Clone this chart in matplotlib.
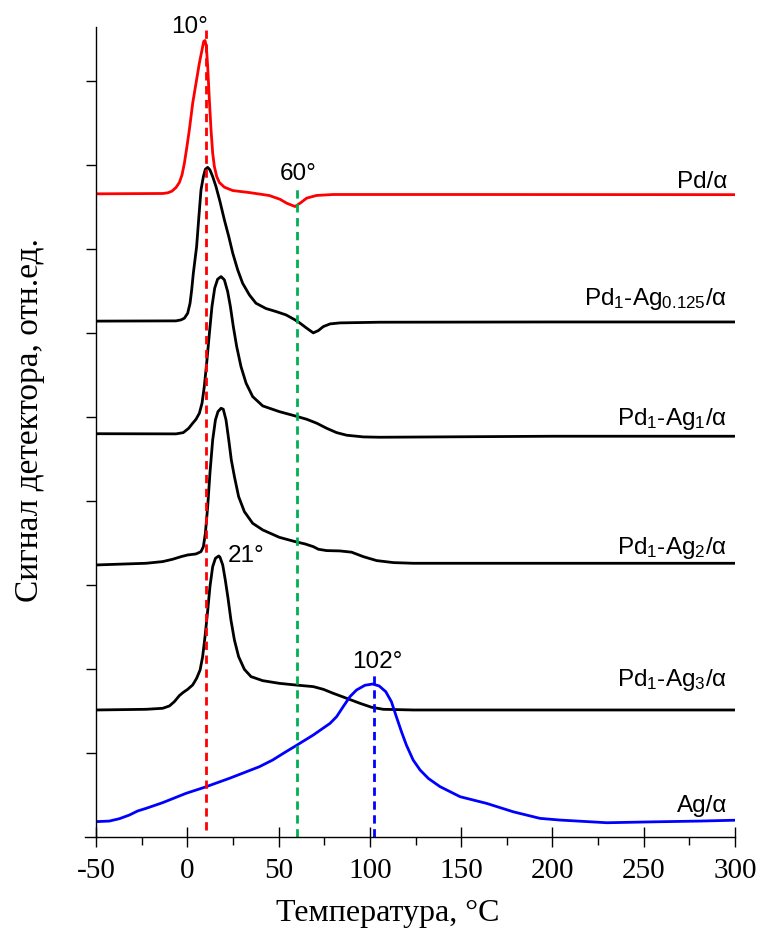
import matplotlib
matplotlib.use('Agg')
import matplotlib.pyplot as plt
from matplotlib.ticker import MultipleLocator

plt.rcParams['mathtext.default'] = 'regular'
plt.rcParams['axes.unicode_minus'] = False

# temperature (°C) / signal (offset curves, arbitrary units)
pd_t = [-50, -13.5, -10.7, -8.4, -6.2, -4.35, -2.9, -1.6, -0.34, 1.12, 2.95, 4.77, 6.6, 8.06, 8.97,
        9.7, 10.43, 11.16, 12.08, 12.99, 13.9, 14.82, 16.1, 17.55, 20.3, 24.9, 34.0, 44.9, 50.8,
        54.4, 59.0, 61.8, 65.4, 70.9, 80.0, 150, 300]
pd_y = [7.655, 7.659, 7.667, 7.687, 7.73, 7.79, 7.881, 8.02, 8.198, 8.417, 8.734, 8.972, 9.21,
        9.369, 9.468, 9.48, 9.409, 9.171, 8.774, 8.417, 8.139, 7.98, 7.861, 7.79, 7.734, 7.694,
        7.67, 7.635, 7.59, 7.544, 7.504, 7.544, 7.604, 7.636, 7.647, 7.647, 7.645]

ag0125_t = [-50, -6.2, -3.4, -1.6, 0.2, 1.5, 2.4, 3.3, 4.2, 5.1, 6.2, 7.5, 8.8, 9.9, 11.16, 12.4,
            13.9, 15.7, 17.9, 20.3, 22.7, 24.9, 27.6, 30.3, 34.0, 37.6, 43.1, 48.6, 54.1, 59.0,
            61.8, 65.4, 69.0, 71.8, 74.5, 78.2, 83.6, 105.5, 200, 300]
ag0125_y = [6.14, 6.143, 6.155, 6.175, 6.234, 6.353, 6.512, 6.71, 6.869, 7.028, 7.345, 7.702, 7.86,
            7.948, 7.97, 7.94, 7.86, 7.742, 7.563, 7.345, 7.147, 6.948, 6.75, 6.591, 6.452, 6.353,
            6.29, 6.254, 6.214, 6.155, 6.115, 6.056, 6.00, 6.028, 6.075, 6.107, 6.119, 6.127,
            6.13, 6.13]

ag1_t = [-50, -6.2, -2.2, 0.76, 2.95, 4.77, 6.6, 8.06, 9.3, 10.6, 12.1, 13.5, 15.0, 16.6, 18.5,
         20.3, 22.1, 23.6, 25.2, 27.05, 29.4, 32.2, 35.8, 41.3, 50.4, 59.0, 65.4, 70.9, 76.3,
         81.8, 87.3, 96.4, 105.5, 200, 300]
ag1_y = [4.80, 4.798, 4.813, 4.865, 4.925, 4.972, 5.044, 5.163, 5.361, 5.639, 5.996, 6.313, 6.532,
         6.639, 6.67, 6.631, 6.492, 6.313, 6.075, 5.837, 5.599, 5.401, 5.242, 5.131, 5.063, 5.012,
         4.972, 4.925, 4.865, 4.813, 4.782, 4.762, 4.758, 4.77, 4.77]

ag2_t = [-50, -22.6, -13.5, -8.0, -3.4, 0.2, 4.77, 7.5, 8.8, 9.9, 11.16, 12.4, 13.9, 15.4, 16.8,
         18.5, 19.7, 21.2, 22.7, 24.1, 25.8, 28.1, 31.25, 35.8, 41.3, 50.4, 59.0, 64.5, 69.0,
         71.8, 76.3, 83.6, 90.0, 96.4, 103.7, 112.9, 123.8, 200, 300]
ag2_y = [3.238, 3.258, 3.278, 3.306, 3.337, 3.357, 3.369, 3.397, 3.456, 3.615, 3.933, 4.33, 4.726,
         4.964, 5.063, 5.103, 5.091, 4.964, 4.726, 4.488, 4.29, 4.052, 3.873, 3.734, 3.655, 3.567,
         3.516, 3.488, 3.456, 3.425, 3.409, 3.405, 3.39, 3.337, 3.29, 3.266, 3.258, 3.258, 3.258]

ag3_t = [-50, -22.6, -13.5, -9.8, -7.1, -4.35, -2.2, 0.2, 2.95, 5.1, 7.0, 8.4, 9.7, 11.2, 12.4,
         13.9, 15.4, 17.2, 17.9, 19.4, 20.8, 22.3, 23.9, 25.8, 28.1, 31.25, 34.9, 41.3, 50.4,
         59.0, 69.0, 74.5, 80.0, 87.3, 94.6, 101.0, 107.4, 123.8, 200, 300]
ag3_y = [1.512, 1.520, 1.532, 1.56, 1.611, 1.683, 1.722, 1.758, 1.810, 1.889, 1.988, 2.147, 2.385,
         2.702, 2.98, 3.218, 3.317, 3.345, 3.33, 3.238, 3.06, 2.842, 2.583, 2.345, 2.147, 1.996,
         1.909, 1.861, 1.829, 1.81, 1.79, 1.758, 1.71, 1.651, 1.591, 1.544, 1.52, 1.512, 1.512,
         1.512]

ag_t = [-50, -42.7, -37.2, -31.7, -27.2, -22.6, -13.5, -0.7, 9.3, 23.0, 39.5, 46.8, 53.2, 59.0,
        69.0, 78.2, 81.8, 85.4, 89.1, 92.7, 97.3, 101.5, 105.1, 108.7, 111.8, 114.5, 117.3,
        120.0, 123.7, 127.5, 132.0, 138.4, 149.4, 164.0, 178.6, 193.2, 204.1, 229.9, 253.4,
        280.8, 300]
ag_y = [0.183, 0.190, 0.218, 0.262, 0.31, 0.341, 0.409, 0.52, 0.591, 0.698, 0.837, 0.917, 1.004,
        1.08, 1.214, 1.353, 1.433, 1.552, 1.671, 1.75, 1.806, 1.821, 1.798, 1.73, 1.611, 1.433,
        1.254, 1.095, 0.917, 0.798, 0.698, 0.60, 0.48, 0.40, 0.30, 0.222, 0.202, 0.17, 0.18,
        0.19, 0.20]

labels = ['Pd/α', 'Pd$_1$-Ag$_{0.125}$/α', 'Pd$_1$-Ag$_1$/α', 'Pd$_1$-Ag$_2$/α',
          'Pd$_1$-Ag$_3$/α', 'Ag/α']
label_y = [7.72, 6.33, 4.90, 3.37, 1.80, 0.30]

fig = plt.figure(figsize=(7.64, 9.39), dpi=100)
ax = fig.add_axes([0.1257, 0.1086, 0.8363, 0.8626])

lw = 2.0
ax.plot(pd_t, pd_y, color='#ff0000', lw=lw)
ax.plot(ag0125_t, ag0125_y, color='black', lw=lw)
ax.plot(ag1_t, ag1_y, color='black', lw=lw)
ax.plot(ag2_t, ag2_y, color='black', lw=lw)
ax.plot(ag3_t, ag3_y, color='black', lw=lw)
ax.plot(ag_t, ag_y, color='#0000ff', lw=lw)

# marker lines for peak temperatures
ax.plot([10, 10], [0.08, 9.6], color='#ff0000', lw=lw, dashes=(3, 2))
ax.plot([60, 60], [0, 7.76], color='#00b050', lw=lw, dashes=(3, 2))
ax.plot([102, 102], [0, 1.95], color='#0000ff', lw=lw, dashes=(3, 2))

sans = 'Liberation Sans'
fs = 17.5
ax.text(1.5, 9.57, '10°', fontsize=fs, family=sans, ha='center', va='baseline')
ax.text(60.6, 7.82, '60°', fontsize=fs, family=sans, ha='center', va='baseline')
ax.text(32.4, 3.27, '21°', fontsize=fs, family=sans, ha='center', va='baseline')
ax.text(104.2, 2.01, '102°', fontsize=fs, family=sans, ha='center', va='baseline')

for lab, yy in zip(labels, label_y):
    ax.text(295.6, yy, lab, fontsize=fs, family=sans, ha='right', va='baseline')

ax.set_xlim(-50, 300)
ax.set_ylim(0, 9.64)
ax.spines['top'].set_visible(False)
ax.spines['right'].set_visible(False)
for s in ('left', 'bottom'):
    ax.spines[s].set_linewidth(1.0)
ax.plot([-0.017, 0], [0, 0], transform=ax.transAxes, color='black', lw=1.0, clip_on=False)

ax.xaxis.set_major_locator(MultipleLocator(50))
ax.xaxis.set_minor_locator(MultipleLocator(25))
ax.tick_params(axis='x', which='major', direction='inout', length=13.7, width=1.0, pad=8)
ax.tick_params(axis='x', which='minor', direction='out', length=6, width=1.0)
ax.tick_params(axis='y', which='major', direction='out', length=7.2, width=1.0, labelleft=False)
ax.set_yticks([1, 2, 3, 4, 5, 6, 7, 8, 9])

serif = 'Liberation Serif'
for t in ax.get_xticklabels():
    t.set_family(serif)
    t.set_fontsize(21)

ax.set_xlabel('Температура, °C', family=serif, fontsize=23)
ax.set_ylabel('Сигнал детектора, отн.ед.', family=serif, fontsize=24)
ax.xaxis.set_label_coords(0.457, -0.076)
ax.yaxis.set_label_coords(-0.08, 0.515)

fig.savefig('out.png', dpi=100)
